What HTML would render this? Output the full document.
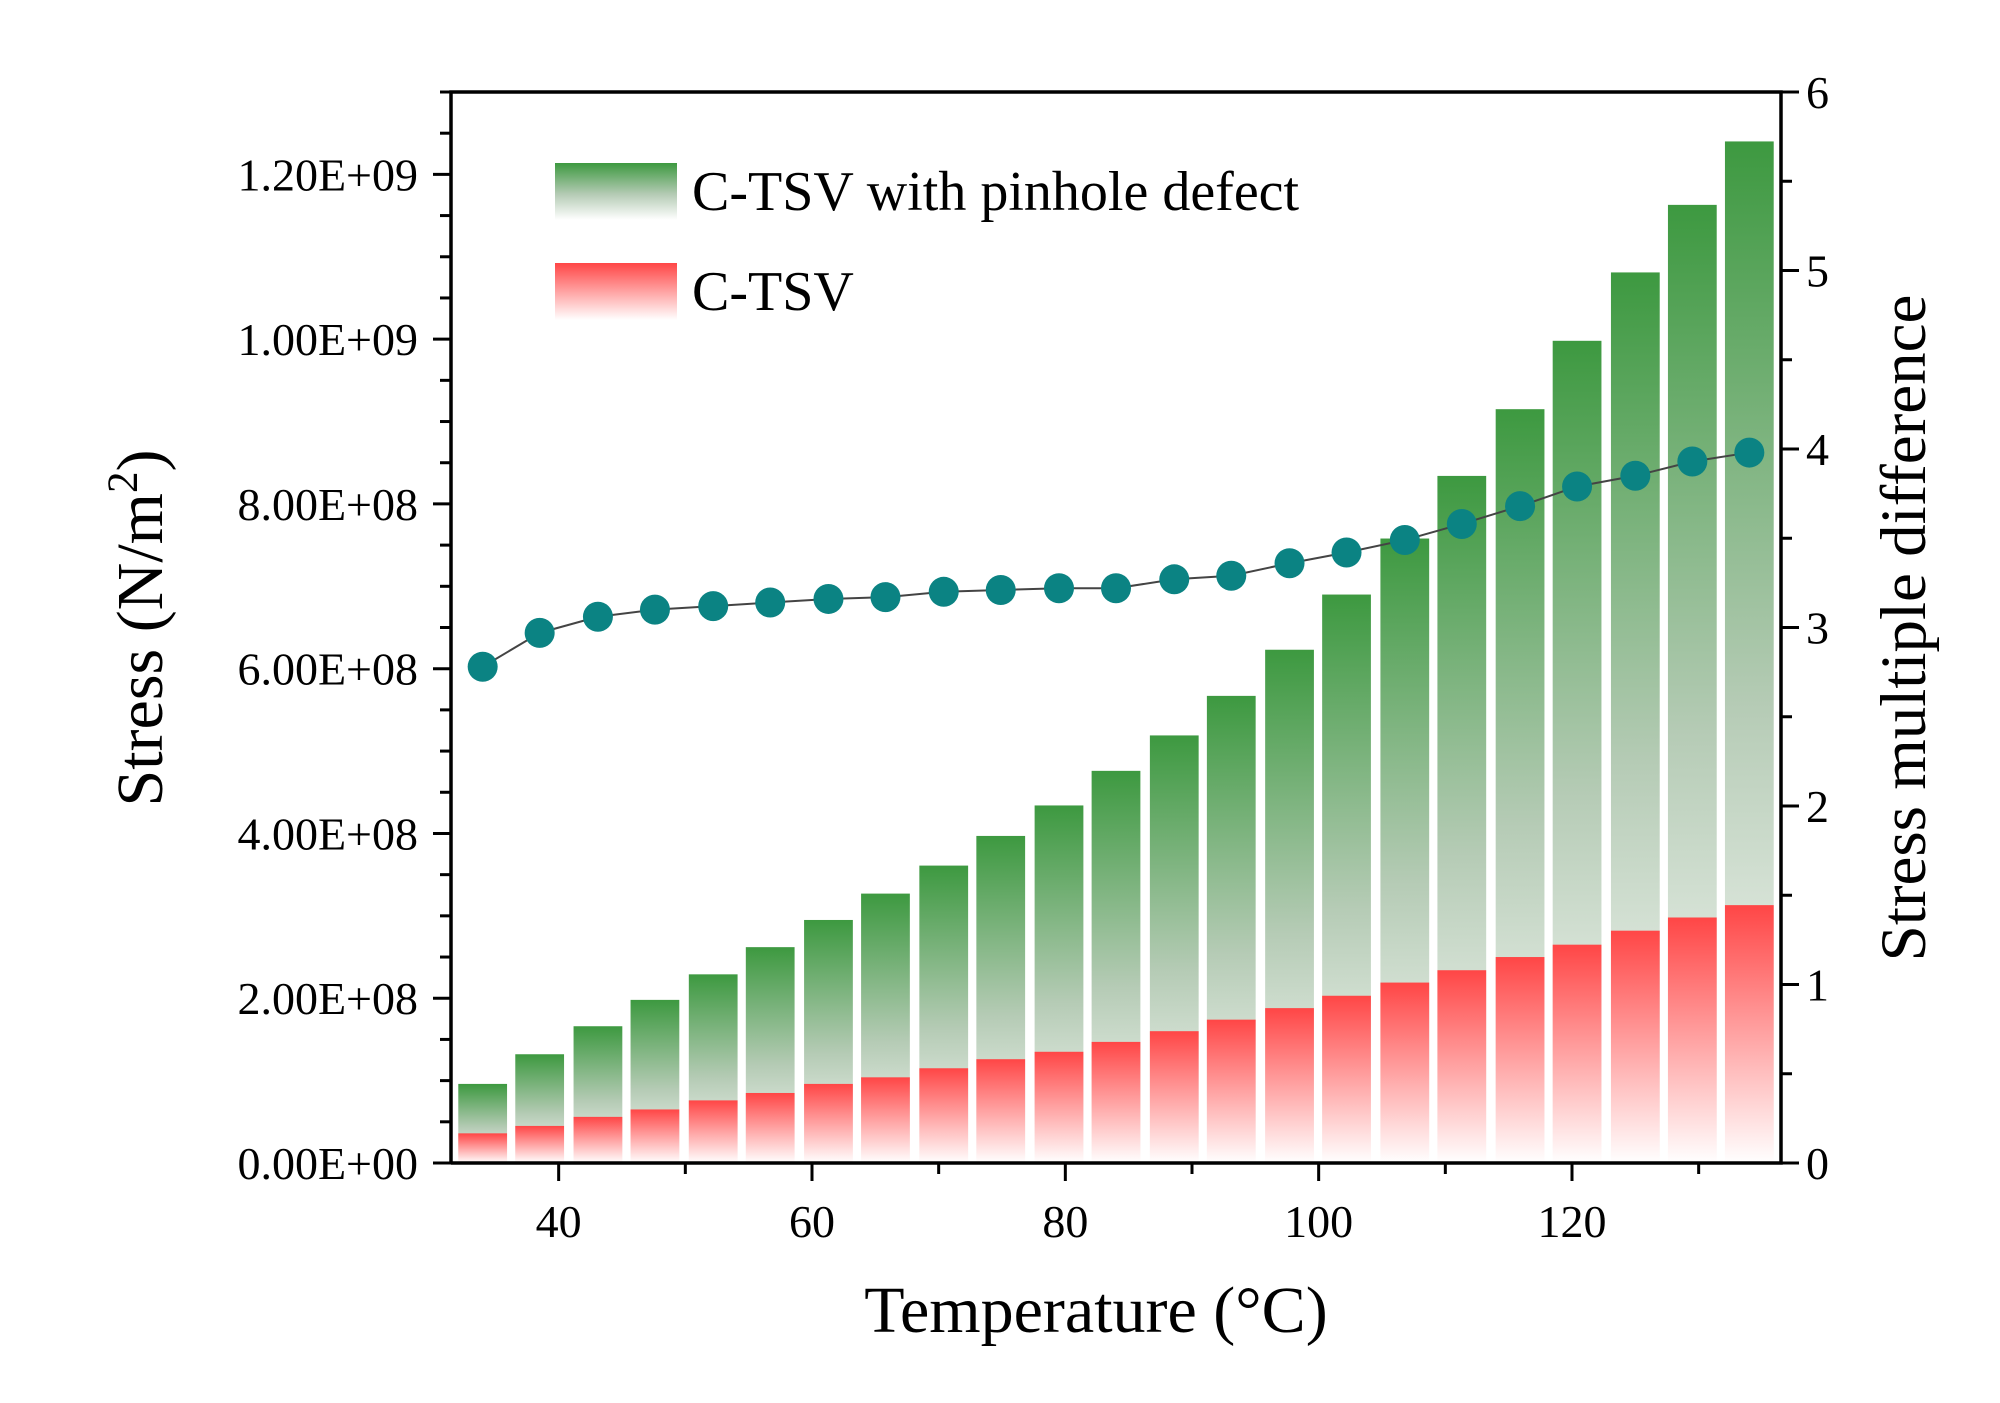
<!DOCTYPE html>
<html><head><meta charset="utf-8"><style>
html,body{margin:0;padding:0;background:#fff;}
svg{display:block;font-family:"Liberation Serif",serif;}
</style></head><body>
<svg id="chart" width="2000" height="1403" viewBox="0 0 2000 1403">
<defs>
<linearGradient id="gGreen" x1="0" y1="0" x2="0" y2="1"><stop offset="0" stop-color="#3d9940"/><stop offset="0.55" stop-color="#b5cbb5"/><stop offset="1" stop-color="#ffffff"/></linearGradient>
<linearGradient id="gRed" x1="0" y1="0" x2="0" y2="1"><stop offset="0" stop-color="#ff4646"/><stop offset="1" stop-color="#ffffff"/></linearGradient>
</defs>
<g id="bars"></g>
<g id="line"></g>
<g id="axes"></g>
<g>
<rect x="555" y="163" width="122" height="57" fill="url(#gGreen)"/>
<text x="692" y="210" font-size="56">C-TSV with pinhole defect</text>
<rect x="555" y="263" width="122" height="57" fill="url(#gRed)"/>
<text x="692" y="310" font-size="56">C-TSV</text>
</g>
<text x="1096" y="1332" font-size="66" text-anchor="middle">Temperature (°C)</text>
<text transform="translate(162,628) rotate(-90)" font-size="66" text-anchor="middle">Stress (N/m<tspan dy="-25" font-size="43">2</tspan><tspan dy="25">)</tspan></text>
<text transform="translate(1925,628) rotate(-90)" font-size="65" text-anchor="middle">Stress multiple difference</text>
</svg>
<script>
const temps=[34,38.5,43.1,47.6,52.2,56.7,61.3,65.8,70.4,74.9,79.5,84,88.6,93.1,97.7,102.2,106.8,111.3,115.9,120.4,125,129.5,134];
const pinhole=[0.96,1.32,1.66,1.98,2.29,2.62,2.95,3.27,3.61,3.97,4.34,4.76,5.19,5.67,6.23,6.90,7.58,8.34,9.15,9.98,10.81,11.63,12.40];
const ctsv=[0.36,0.45,0.56,0.65,0.76,0.85,0.96,1.04,1.15,1.26,1.35,1.47,1.60,1.74,1.88,2.03,2.19,2.34,2.50,2.65,2.82,2.98,3.13];
const multiple=[2.78,2.97,3.06,3.10,3.12,3.14,3.16,3.17,3.20,3.21,3.22,3.22,3.27,3.29,3.36,3.42,3.49,3.58,3.68,3.79,3.85,3.93,3.98];
const leftTicks=["0.00E+00","2.00E+08","4.00E+08","6.00E+08","8.00E+08","1.00E+09","1.20E+09"];
const xTicks=[40,60,80,100,120];
const rightTicks=[0,1,2,3,4,5,6];
const L=451,R=1781,T=92,B=1163;
const xMin=31.5,xMax=136.5,yMax=13,rMax=6;
const X=v=>L+(v-xMin)/(xMax-xMin)*(R-L);
const Y=v=>B-v/yMax*(B-T);
const YR=v=>B-v/rMax*(B-T);
const NS="http://www.w3.org/2000/svg";
function mk(tag,attrs,parent){const e=document.createElementNS(NS,tag);for(const k in attrs)e.setAttribute(k,attrs[k]);parent.appendChild(e);return e;}
const bars=document.getElementById('bars'),line=document.getElementById('line'),axes=document.getElementById('axes');
const bw=(X(3.85)-X(0));
temps.forEach((t,i)=>{
 const g=mk('rect',{x:X(t)-bw/2,y:Y(pinhole[i]),width:bw,height:B-Y(pinhole[i]),fill:'url(#gGreen)'},bars);
 
 
 const r=mk('rect',{x:X(t)-bw/2,y:Y(ctsv[i]),width:bw,height:B-Y(ctsv[i]),fill:'url(#gRed)'},bars);
 
 
});
const pl=mk('polyline',{points:temps.map((t,i)=>X(t)+','+YR(multiple[i])).join(' '),fill:'none',stroke:'#444',"stroke-width":2},line);


temps.forEach((t,i)=>{
 const c=mk('circle',{cx:X(t),cy:YR(multiple[i]),r:15,fill:'#0b8383'},line);
 
 
});
const frame=mk('path',{d:`M${L},${B}V${T}H${R}V${B}H${L}`,fill:'none',stroke:'#000',"stroke-width":3.5},axes);


for(let k=0;k<=26;k++){const v=k*0.5,y=Y(v);const major=k%4==0;
 mk('line',{x1:L,x2:L-(major?18:11),y1:y,y2:y,stroke:'#000',"stroke-width":3},axes);}
leftTicks.forEach((s,i)=>{const t=mk('text',{x:418,y:Y(i*2)+16,"font-size":46,"text-anchor":"end"},axes);t.textContent=s;
 
 });
for(let k=0;k<=12;k++){const y=YR(k*0.5);const major=k%2==0;
 mk('line',{x1:R,x2:R+(major?18:11),y1:y,y2:y,stroke:'#000',"stroke-width":3},axes);}
rightTicks.forEach(v=>{const t=mk('text',{x:1806,y:YR(v)+16,"font-size":46},axes);t.textContent=v;
 
 });
for(let v=40;v<=130;v+=10){const major=v%20==0;
 mk('line',{x1:X(v),x2:X(v),y1:B,y2:B+(major?18:11),stroke:'#000',"stroke-width":3},axes);}
xTicks.forEach(v=>{const t=mk('text',{x:X(v),y:1237,"font-size":46,"text-anchor":"middle"},axes);t.textContent=v;
 
 });
</script>
</body></html>
